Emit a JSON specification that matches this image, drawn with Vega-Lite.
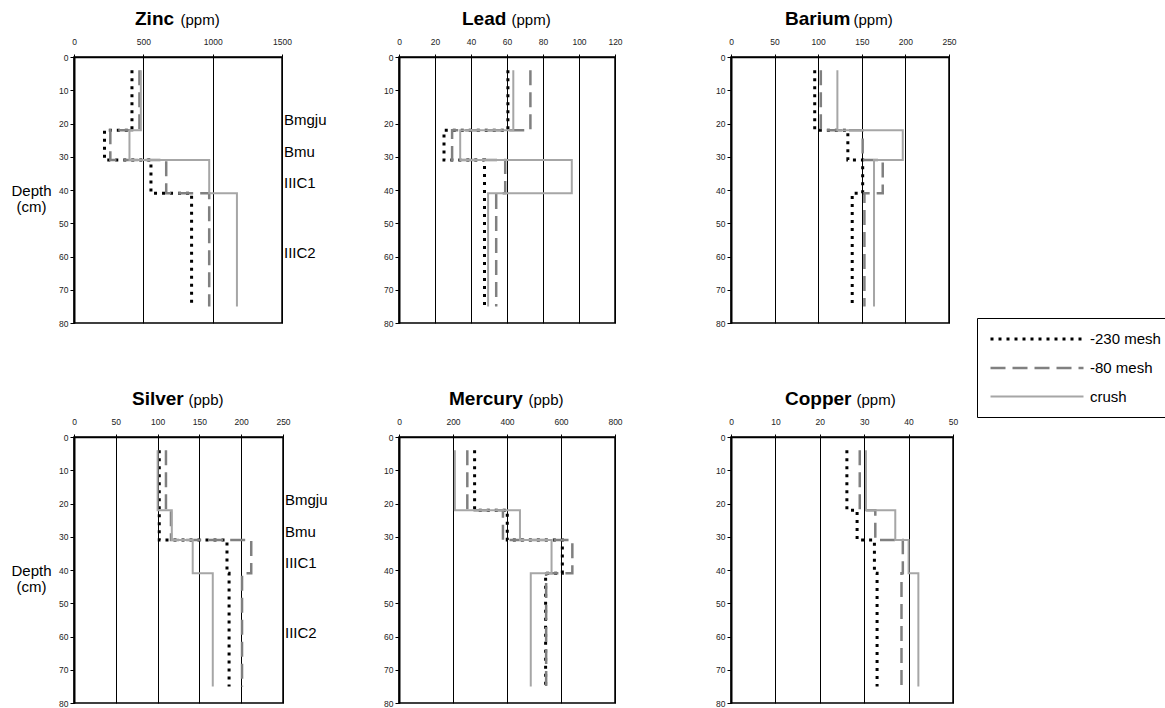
{
  "$schema": "https://vega.github.io/schema/vega-lite/v6.json",
  "padding": {"left": 10, "top": 9, "right": 0, "bottom": 4},
  "autosize": {"type": "pad"},
  "background": "white",
  "config": {
    "font": "Liberation Sans",
    "view": {"stroke": "black", "strokeWidth": 1.5},
    "axis": {"labelColor": "#222", "titleColor": "black"},
    "legend": {
      "orient": "none", "legendX": 903, "legendY": 261,
      "strokeColor": "black", "fillColor": "white", "padding": 12,
      "labelFontSize": 15, "labelColor": "black", "rowPadding": 12,
      "symbolStrokeWidth": 2.5, "symbolSize": 225,
      "symbolType": "M-6.2,0H6.2", "symbolOffset": 39, "labelOffset": 44
    }
  },
  "datasets": {
    "profiles": [
      {"element": "Zinc", "fraction": "-230 mesh", "depth": 4, "value": 418},
      {"element": "Zinc", "fraction": "-230 mesh", "depth": 22, "value": 220},
      {"element": "Zinc", "fraction": "-230 mesh", "depth": 31, "value": 555},
      {"element": "Zinc", "fraction": "-230 mesh", "depth": 41, "value": 848},
      {"element": "Zinc", "fraction": "-230 mesh", "depth": 75, "value": 848},
      {"element": "Zinc", "fraction": "-80 mesh", "depth": 4, "value": 472},
      {"element": "Zinc", "fraction": "-80 mesh", "depth": 22, "value": 262},
      {"element": "Zinc", "fraction": "-80 mesh", "depth": 31, "value": 665},
      {"element": "Zinc", "fraction": "-80 mesh", "depth": 41, "value": 975},
      {"element": "Zinc", "fraction": "-80 mesh", "depth": 75, "value": 975},
      {"element": "Zinc", "fraction": "crush", "depth": 4, "value": 482},
      {"element": "Zinc", "fraction": "crush", "depth": 22, "value": 400},
      {"element": "Zinc", "fraction": "crush", "depth": 31, "value": 975},
      {"element": "Zinc", "fraction": "crush", "depth": 41, "value": 1175},
      {"element": "Zinc", "fraction": "crush", "depth": 75, "value": 1175},

      {"element": "Lead", "fraction": "-230 mesh", "depth": 4, "value": 60.5},
      {"element": "Lead", "fraction": "-230 mesh", "depth": 22, "value": 25},
      {"element": "Lead", "fraction": "-230 mesh", "depth": 31, "value": 47.5},
      {"element": "Lead", "fraction": "-230 mesh", "depth": 41, "value": 47.5},
      {"element": "Lead", "fraction": "-230 mesh", "depth": 75, "value": 47.5},
      {"element": "Lead", "fraction": "-80 mesh", "depth": 4, "value": 73},
      {"element": "Lead", "fraction": "-80 mesh", "depth": 22, "value": 29.5},
      {"element": "Lead", "fraction": "-80 mesh", "depth": 31, "value": 59},
      {"element": "Lead", "fraction": "-80 mesh", "depth": 41, "value": 54},
      {"element": "Lead", "fraction": "-80 mesh", "depth": 75, "value": 54},
      {"element": "Lead", "fraction": "crush", "depth": 4, "value": 63.5},
      {"element": "Lead", "fraction": "crush", "depth": 22, "value": 34},
      {"element": "Lead", "fraction": "crush", "depth": 31, "value": 96},
      {"element": "Lead", "fraction": "crush", "depth": 41, "value": 49.5},
      {"element": "Lead", "fraction": "crush", "depth": 75, "value": 49.5},

      {"element": "Barium", "fraction": "-230 mesh", "depth": 4, "value": 96},
      {"element": "Barium", "fraction": "-230 mesh", "depth": 22, "value": 134},
      {"element": "Barium", "fraction": "-230 mesh", "depth": 31, "value": 151},
      {"element": "Barium", "fraction": "-230 mesh", "depth": 41, "value": 139},
      {"element": "Barium", "fraction": "-230 mesh", "depth": 75, "value": 139},
      {"element": "Barium", "fraction": "-80 mesh", "depth": 4, "value": 103},
      {"element": "Barium", "fraction": "-80 mesh", "depth": 22, "value": 151},
      {"element": "Barium", "fraction": "-80 mesh", "depth": 31, "value": 174},
      {"element": "Barium", "fraction": "-80 mesh", "depth": 41, "value": 153},
      {"element": "Barium", "fraction": "-80 mesh", "depth": 75, "value": 153},
      {"element": "Barium", "fraction": "crush", "depth": 4, "value": 122},
      {"element": "Barium", "fraction": "crush", "depth": 22, "value": 197},
      {"element": "Barium", "fraction": "crush", "depth": 31, "value": 164},
      {"element": "Barium", "fraction": "crush", "depth": 41, "value": 164},
      {"element": "Barium", "fraction": "crush", "depth": 75, "value": 164},

      {"element": "Silver", "fraction": "-230 mesh", "depth": 4, "value": 102},
      {"element": "Silver", "fraction": "-230 mesh", "depth": 22, "value": 102},
      {"element": "Silver", "fraction": "-230 mesh", "depth": 31, "value": 183},
      {"element": "Silver", "fraction": "-230 mesh", "depth": 41, "value": 185.5},
      {"element": "Silver", "fraction": "-230 mesh", "depth": 75, "value": 185.5},
      {"element": "Silver", "fraction": "-80 mesh", "depth": 4, "value": 110},
      {"element": "Silver", "fraction": "-80 mesh", "depth": 22, "value": 116},
      {"element": "Silver", "fraction": "-80 mesh", "depth": 31, "value": 212},
      {"element": "Silver", "fraction": "-80 mesh", "depth": 41, "value": 201},
      {"element": "Silver", "fraction": "-80 mesh", "depth": 75, "value": 201},
      {"element": "Silver", "fraction": "crush", "depth": 4, "value": 100},
      {"element": "Silver", "fraction": "crush", "depth": 22, "value": 117},
      {"element": "Silver", "fraction": "crush", "depth": 31, "value": 142},
      {"element": "Silver", "fraction": "crush", "depth": 41, "value": 166},
      {"element": "Silver", "fraction": "crush", "depth": 75, "value": 166},

      {"element": "Mercury", "fraction": "-230 mesh", "depth": 4, "value": 280},
      {"element": "Mercury", "fraction": "-230 mesh", "depth": 22, "value": 401},
      {"element": "Mercury", "fraction": "-230 mesh", "depth": 31, "value": 605},
      {"element": "Mercury", "fraction": "-230 mesh", "depth": 41, "value": 543},
      {"element": "Mercury", "fraction": "-230 mesh", "depth": 75.5, "value": 543},
      {"element": "Mercury", "fraction": "-80 mesh", "depth": 4, "value": 253},
      {"element": "Mercury", "fraction": "-80 mesh", "depth": 22, "value": 385},
      {"element": "Mercury", "fraction": "-80 mesh", "depth": 31, "value": 642},
      {"element": "Mercury", "fraction": "-80 mesh", "depth": 41, "value": 545},
      {"element": "Mercury", "fraction": "-80 mesh", "depth": 75, "value": 545},
      {"element": "Mercury", "fraction": "crush", "depth": 4, "value": 207},
      {"element": "Mercury", "fraction": "crush", "depth": 22, "value": 448},
      {"element": "Mercury", "fraction": "crush", "depth": 31, "value": 565},
      {"element": "Mercury", "fraction": "crush", "depth": 41, "value": 488},
      {"element": "Mercury", "fraction": "crush", "depth": 75, "value": 488},

      {"element": "Copper", "fraction": "-230 mesh", "depth": 4, "value": 26.1},
      {"element": "Copper", "fraction": "-230 mesh", "depth": 22, "value": 28.4},
      {"element": "Copper", "fraction": "-230 mesh", "depth": 31, "value": 32.3},
      {"element": "Copper", "fraction": "-230 mesh", "depth": 41, "value": 32.9},
      {"element": "Copper", "fraction": "-230 mesh", "depth": 75, "value": 32.9},
      {"element": "Copper", "fraction": "-80 mesh", "depth": 4, "value": 29},
      {"element": "Copper", "fraction": "-80 mesh", "depth": 22, "value": 32.5},
      {"element": "Copper", "fraction": "-80 mesh", "depth": 31, "value": 38.7},
      {"element": "Copper", "fraction": "-80 mesh", "depth": 41, "value": 38.4},
      {"element": "Copper", "fraction": "-80 mesh", "depth": 75, "value": 38.4},
      {"element": "Copper", "fraction": "crush", "depth": 4, "value": 30.4},
      {"element": "Copper", "fraction": "crush", "depth": 22, "value": 37},
      {"element": "Copper", "fraction": "crush", "depth": 31, "value": 40},
      {"element": "Copper", "fraction": "crush", "depth": 41, "value": 42.2},
      {"element": "Copper", "fraction": "crush", "depth": 75, "value": 42.2}
    ],
    "horizons": [
      {"label": "Bmgju", "depth": 19},
      {"label": "Bmu", "depth": 28.5},
      {"label": "IIIC1", "depth": 38},
      {"label": "IIIC2", "depth": 59}
    ]
  },
  "columns": 3,
  "bounds": "flush",
  "spacing": {"row": 114, "column": 116},
  "concat": [
    {
      "width": 208, "height": 266,
      "title": {"text": "Zinc", "anchor": "start", "frame": "group", "dx": 61, "fontSize": 19, "fontWeight": "bold", "baseline": "alphabetic", "offset": -32, "color": "black"},
      "encoding": {
        "y": {"field": "depth", "type": "quantitative", "scale": {"domain": [0, 80], "reverse": true, "nice": false},
          "axis": {"values": [0,10,20,30,40,50,60,70,80], "grid": false, "domainColor": "black", "domainWidth": 2, "tickColor": "black", "tickSize": 4, "labelFontSize": 8.5, "labelPadding": 2,
            "title": ["Depth", "(cm)"], "titleAngle": 0, "titleX": -43, "titleY": 133, "titleAlign": "center", "titleBaseline": "middle", "titleFontSize": 15, "titleFontWeight": "normal", "titleLineHeight": 16}}
      },
      "layer": [
        {
          "data": {"name": "profiles"},
          "transform": [{"filter": "datum.element === 'Zinc'"}],
          "mark": {"type": "line", "interpolate": "step-before"},
          "encoding": {
            "x": {"field": "value", "type": "quantitative", "scale": {"domain": [0, 1500], "nice": false},
              "axis": {"orient": "top", "values": [0, 500, 1000, 1500], "format": "d", "grid": true, "gridColor": "black", "gridWidth": 1, "gridOpacity": 1, "domainColor": "black", "domainWidth": 1.5, "tickColor": "black", "tickSize": 3, "labelFontSize": 8.5, "labelPadding": 8, "labelFlush": false,
                "title": "(ppm)", "titleX": 106, "titleY": -33, "titleAlign": "left", "titleBaseline": "alphabetic", "titleFontSize": 15, "titleFontWeight": "normal"}},
            "color": {"field": "fraction", "type": "nominal", "scale": {"domain": ["-230 mesh", "-80 mesh", "crush"], "range": ["#000000", "#808080", "#a6a6a6"]},
              "legend": {"title": null, "encode": {"symbols": {"update": {"strokeDash": {"signal": "datum.value === '-230 mesh' ? [7, 5] : datum.value === '-80 mesh' ? [17, 7] : [1, 0]"}}}}}},
            "strokeDash": {"field": "fraction", "type": "nominal", "scale": {"domain": ["-230 mesh", "-80 mesh", "crush"], "range": [[3, 5], [15, 7], [1, 0]]}, "legend": null},
            "strokeWidth": {"field": "fraction", "type": "nominal", "scale": {"domain": ["-230 mesh", "-80 mesh", "crush"], "range": [3, 2, 2.5]}, "legend": null},
            "order": {"field": "depth", "type": "quantitative"}
          }
        },
        {
          "data": {"name": "horizons"},
          "mark": {"type": "text", "align": "left", "baseline": "middle", "dx": 2, "fontSize": 15, "color": "black"},
          "encoding": {"x": {"datum": 1500, "type": "quantitative"}, "text": {"field": "label", "type": "nominal"}}
        }
      ]
    },
    {
      "width": 216, "height": 266,
      "title": {"text": "Lead", "anchor": "start", "frame": "group", "dx": 63, "fontSize": 19, "fontWeight": "bold", "baseline": "alphabetic", "offset": -32, "color": "black"},
      "data": {"name": "profiles"},
      "transform": [{"filter": "datum.element === 'Lead'"}],
      "mark": {"type": "line", "interpolate": "step-before"},
      "encoding": {
        "y": {"field": "depth", "type": "quantitative", "scale": {"domain": [0, 80], "reverse": true, "nice": false},
          "axis": {"values": [0,10,20,30,40,50,60,70,80], "grid": false, "domainColor": "black", "domainWidth": 2, "tickColor": "black", "tickSize": 4, "labelFontSize": 8.5, "labelPadding": 2, "title": null}},
        "x": {"field": "value", "type": "quantitative", "scale": {"domain": [0, 120], "nice": false},
          "axis": {"orient": "top", "values": [0, 20, 40, 60, 80, 100, 120], "format": "d", "grid": true, "gridColor": "black", "gridWidth": 1, "gridOpacity": 1, "domainColor": "black", "domainWidth": 1.5, "tickColor": "black", "tickSize": 3, "labelFontSize": 8.5, "labelPadding": 8, "labelFlush": false,
            "title": "(ppm)", "titleX": 112, "titleY": -33, "titleAlign": "left", "titleBaseline": "alphabetic", "titleFontSize": 15, "titleFontWeight": "normal"}},
        "color": {"field": "fraction", "type": "nominal", "scale": {"domain": ["-230 mesh", "-80 mesh", "crush"], "range": ["#000000", "#808080", "#a6a6a6"]},
          "legend": {"title": null, "encode": {"symbols": {"update": {"strokeDash": {"signal": "datum.value === '-230 mesh' ? [7, 5] : datum.value === '-80 mesh' ? [17, 7] : [1, 0]"}}}}}},
        "strokeDash": {"field": "fraction", "type": "nominal", "scale": {"domain": ["-230 mesh", "-80 mesh", "crush"], "range": [[3, 5], [15, 7], [1, 0]]}, "legend": null},
        "strokeWidth": {"field": "fraction", "type": "nominal", "scale": {"domain": ["-230 mesh", "-80 mesh", "crush"], "range": [3, 2, 2.5]}, "legend": null},
        "order": {"field": "depth", "type": "quantitative"}
      }
    },
    {
      "width": 218, "height": 266,
      "title": {"text": "Barium", "anchor": "start", "frame": "group", "dx": 54, "fontSize": 19, "fontWeight": "bold", "baseline": "alphabetic", "offset": -32, "color": "black"},
      "data": {"name": "profiles"},
      "transform": [{"filter": "datum.element === 'Barium'"}],
      "mark": {"type": "line", "interpolate": "step-before"},
      "encoding": {
        "y": {"field": "depth", "type": "quantitative", "scale": {"domain": [0, 80], "reverse": true, "nice": false},
          "axis": {"values": [0,10,20,30,40,50,60,70,80], "grid": false, "domainColor": "black", "domainWidth": 2, "tickColor": "black", "tickSize": 4, "labelFontSize": 8.5, "labelPadding": 2, "title": null}},
        "x": {"field": "value", "type": "quantitative", "scale": {"domain": [0, 250], "nice": false},
          "axis": {"orient": "top", "values": [0, 50, 100, 150, 200, 250], "format": "d", "grid": true, "gridColor": "black", "gridWidth": 1, "gridOpacity": 1, "domainColor": "black", "domainWidth": 1.5, "tickColor": "black", "tickSize": 3, "labelFontSize": 8.5, "labelPadding": 8, "labelFlush": false,
            "title": "(ppm)", "titleX": 122, "titleY": -33, "titleAlign": "left", "titleBaseline": "alphabetic", "titleFontSize": 15, "titleFontWeight": "normal"}},
        "color": {"field": "fraction", "type": "nominal", "scale": {"domain": ["-230 mesh", "-80 mesh", "crush"], "range": ["#000000", "#808080", "#a6a6a6"]},
          "legend": {"title": null, "encode": {"symbols": {"update": {"strokeDash": {"signal": "datum.value === '-230 mesh' ? [7, 5] : datum.value === '-80 mesh' ? [17, 7] : [1, 0]"}}}}}},
        "strokeDash": {"field": "fraction", "type": "nominal", "scale": {"domain": ["-230 mesh", "-80 mesh", "crush"], "range": [[3, 5], [15, 7], [1, 0]]}, "legend": null},
        "strokeWidth": {"field": "fraction", "type": "nominal", "scale": {"domain": ["-230 mesh", "-80 mesh", "crush"], "range": [3, 2, 2.5]}, "legend": null},
        "order": {"field": "depth", "type": "quantitative"}
      }
    },
    {
      "width": 209, "height": 266,
      "title": {"text": "Silver", "anchor": "start", "frame": "group", "dx": 58, "fontSize": 19, "fontWeight": "bold", "baseline": "alphabetic", "offset": -32, "color": "black"},
      "encoding": {
        "y": {"field": "depth", "type": "quantitative", "scale": {"domain": [0, 80], "reverse": true, "nice": false},
          "axis": {"values": [0,10,20,30,40,50,60,70,80], "grid": false, "domainColor": "black", "domainWidth": 2, "tickColor": "black", "tickSize": 4, "labelFontSize": 8.5, "labelPadding": 2,
            "title": ["Depth", "(cm)"], "titleAngle": 0, "titleX": -43, "titleY": 133, "titleAlign": "center", "titleBaseline": "middle", "titleFontSize": 15, "titleFontWeight": "normal", "titleLineHeight": 16}}
      },
      "layer": [
        {
          "data": {"name": "profiles"},
          "transform": [{"filter": "datum.element === 'Silver'"}],
          "mark": {"type": "line", "interpolate": "step-before"},
          "encoding": {
            "x": {"field": "value", "type": "quantitative", "scale": {"domain": [0, 250], "nice": false},
              "axis": {"orient": "top", "values": [0, 50, 100, 150, 200, 250], "format": "d", "grid": true, "gridColor": "black", "gridWidth": 1, "gridOpacity": 1, "domainColor": "black", "domainWidth": 1.5, "tickColor": "black", "tickSize": 3, "labelFontSize": 8.5, "labelPadding": 8, "labelFlush": false,
                "title": "(ppb)", "titleX": 114, "titleY": -33, "titleAlign": "left", "titleBaseline": "alphabetic", "titleFontSize": 15, "titleFontWeight": "normal"}},
            "color": {"field": "fraction", "type": "nominal", "scale": {"domain": ["-230 mesh", "-80 mesh", "crush"], "range": ["#000000", "#808080", "#a6a6a6"]},
              "legend": {"title": null, "encode": {"symbols": {"update": {"strokeDash": {"signal": "datum.value === '-230 mesh' ? [7, 5] : datum.value === '-80 mesh' ? [17, 7] : [1, 0]"}}}}}},
            "strokeDash": {"field": "fraction", "type": "nominal", "scale": {"domain": ["-230 mesh", "-80 mesh", "crush"], "range": [[3, 5], [15, 7], [1, 0]]}, "legend": null},
            "strokeWidth": {"field": "fraction", "type": "nominal", "scale": {"domain": ["-230 mesh", "-80 mesh", "crush"], "range": [3, 2, 2.5]}, "legend": null},
            "order": {"field": "depth", "type": "quantitative"}
          }
        },
        {
          "data": {"name": "horizons"},
          "mark": {"type": "text", "align": "left", "baseline": "middle", "dx": 2, "fontSize": 15, "color": "black"},
          "encoding": {"x": {"datum": 250, "type": "quantitative"}, "text": {"field": "label", "type": "nominal"}}
        }
      ]
    },
    {
      "width": 216, "height": 266,
      "title": {"text": "Mercury", "anchor": "start", "frame": "group", "dx": 50, "fontSize": 19, "fontWeight": "bold", "baseline": "alphabetic", "offset": -32, "color": "black"},
      "data": {"name": "profiles"},
      "transform": [{"filter": "datum.element === 'Mercury'"}],
      "mark": {"type": "line", "interpolate": "step-before"},
      "encoding": {
        "y": {"field": "depth", "type": "quantitative", "scale": {"domain": [0, 80], "reverse": true, "nice": false},
          "axis": {"values": [0,10,20,30,40,50,60,70,80], "grid": false, "domainColor": "black", "domainWidth": 2, "tickColor": "black", "tickSize": 4, "labelFontSize": 8.5, "labelPadding": 2, "title": null}},
        "x": {"field": "value", "type": "quantitative", "scale": {"domain": [0, 800], "nice": false},
          "axis": {"orient": "top", "values": [0, 200, 400, 600, 800], "format": "d", "grid": true, "gridColor": "black", "gridWidth": 1, "gridOpacity": 1, "domainColor": "black", "domainWidth": 1.5, "tickColor": "black", "tickSize": 3, "labelFontSize": 8.5, "labelPadding": 8, "labelFlush": false,
            "title": "(ppb)", "titleX": 129, "titleY": -33, "titleAlign": "left", "titleBaseline": "alphabetic", "titleFontSize": 15, "titleFontWeight": "normal"}},
        "color": {"field": "fraction", "type": "nominal", "scale": {"domain": ["-230 mesh", "-80 mesh", "crush"], "range": ["#000000", "#808080", "#a6a6a6"]},
          "legend": {"title": null, "encode": {"symbols": {"update": {"strokeDash": {"signal": "datum.value === '-230 mesh' ? [7, 5] : datum.value === '-80 mesh' ? [17, 7] : [1, 0]"}}}}}},
        "strokeDash": {"field": "fraction", "type": "nominal", "scale": {"domain": ["-230 mesh", "-80 mesh", "crush"], "range": [[3, 5], [15, 7], [1, 0]]}, "legend": null},
        "strokeWidth": {"field": "fraction", "type": "nominal", "scale": {"domain": ["-230 mesh", "-80 mesh", "crush"], "range": [3, 2, 2.5]}, "legend": null},
        "order": {"field": "depth", "type": "quantitative"}
      }
    },
    {
      "width": 222, "height": 266,
      "title": {"text": "Copper", "anchor": "start", "frame": "group", "dx": 54, "fontSize": 19, "fontWeight": "bold", "baseline": "alphabetic", "offset": -32, "color": "black"},
      "data": {"name": "profiles"},
      "transform": [{"filter": "datum.element === 'Copper'"}],
      "mark": {"type": "line", "interpolate": "step-before"},
      "encoding": {
        "y": {"field": "depth", "type": "quantitative", "scale": {"domain": [0, 80], "reverse": true, "nice": false},
          "axis": {"values": [0,10,20,30,40,50,60,70,80], "grid": false, "domainColor": "black", "domainWidth": 2, "tickColor": "black", "tickSize": 4, "labelFontSize": 8.5, "labelPadding": 2, "title": null}},
        "x": {"field": "value", "type": "quantitative", "scale": {"domain": [0, 50], "nice": false},
          "axis": {"orient": "top", "values": [0, 10, 20, 30, 40, 50], "format": "d", "grid": true, "gridColor": "black", "gridWidth": 1, "gridOpacity": 1, "domainColor": "black", "domainWidth": 1.5, "tickColor": "black", "tickSize": 3, "labelFontSize": 8.5, "labelPadding": 8, "labelFlush": false,
            "title": "(ppm)", "titleX": 125, "titleY": -33, "titleAlign": "left", "titleBaseline": "alphabetic", "titleFontSize": 15, "titleFontWeight": "normal"}},
        "color": {"field": "fraction", "type": "nominal", "scale": {"domain": ["-230 mesh", "-80 mesh", "crush"], "range": ["#000000", "#808080", "#a6a6a6"]},
          "legend": {"title": null, "encode": {"symbols": {"update": {"strokeDash": {"signal": "datum.value === '-230 mesh' ? [7, 5] : datum.value === '-80 mesh' ? [17, 7] : [1, 0]"}}}}}},
        "strokeDash": {"field": "fraction", "type": "nominal", "scale": {"domain": ["-230 mesh", "-80 mesh", "crush"], "range": [[3, 5], [15, 7], [1, 0]]}, "legend": null},
        "strokeWidth": {"field": "fraction", "type": "nominal", "scale": {"domain": ["-230 mesh", "-80 mesh", "crush"], "range": [3, 2, 2.5]}, "legend": null},
        "order": {"field": "depth", "type": "quantitative"}
      }
    }
  ]
}
